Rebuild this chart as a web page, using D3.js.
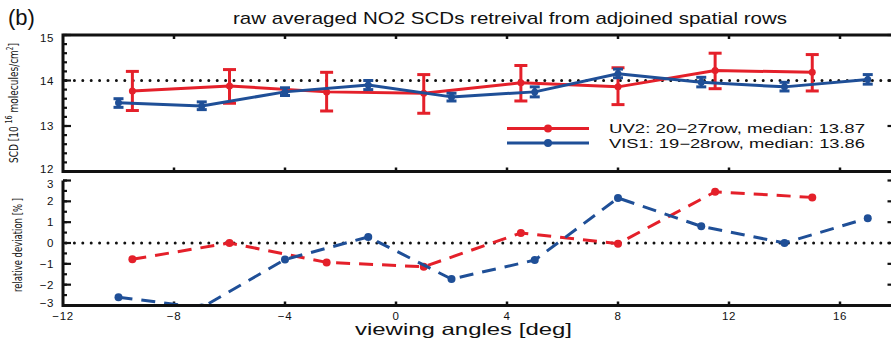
<!DOCTYPE html>
<html>
<head>
<meta charset="utf-8">
<script src="https://cdn.jsdelivr.net/npm/d3@7"></script>
<style>
  html, body { margin: 0; padding: 0; background: #fff; }
  svg { display: block; }
  text { font-family: "Liberation Sans", Arial, Helvetica, sans-serif; fill: #111; }
</style>
</head>
<body>
<svg id="chart" width="891" height="339"></svg>
<script>
// Viewing angles and NO2 slant column densities (10^16 molecules/cm^2)
const uv2Angles = [-9.5, -6, -2.5, 1, 4.5, 8, 11.5, 15];
const uv2Scd    = [13.77, 13.88, 13.75, 13.72, 13.95, 13.86, 14.22, 14.18];
const uv2Lo     = [13.34, 13.50, 13.33, 13.28, 13.55, 13.47, 13.82, 13.77];
const uv2Hi     = [14.20, 14.24, 14.18, 14.13, 14.33, 14.28, 14.60, 14.57];
const uv2Dev    = [-0.78, 0.0, -0.93, -1.14, 0.48, -0.03, 2.46, 2.19];

const vis1Angles = [-10, -7, -4, -1, 2, 5, 8, 11, 14, 17];
const vis1Scd    = [13.51, 13.44, 13.75, 13.90, 13.64, 13.75, 14.15, 13.96, 13.86, 14.02];
const vis1Lo     = [13.41, 13.36, 13.67, 13.80, 13.55, 13.64, 14.06, 13.86, 13.77, 13.92];
const vis1Hi     = [13.60, 13.53, 13.84, 14.00, 13.72, 13.86, 14.25, 14.07, 13.96, 14.13];
const vis1Dev    = [-2.6, -3.1, -0.79, 0.29, -1.73, -0.82, 2.16, 0.80, 0.0, 1.19];

const seriesNames = ["UV2: 20\u221227row, median: 13.87", "VIS1: 19\u221228row, median: 13.86"];
const xTicks   = [-12, -8, -4, 0, 4, 8, 12, 16];
const scdTicks = [12, 13, 14, 15];
const devTicks = [-3, -2, -1, 0, 1, 2, 3];
const scdMinor = d3.range(12, 15.001, 0.2);
const devMinor = d3.range(-3, 3.001, 0.5);
const scdRef = 14;
const devRef = 0;

const RED = "#e4202a";
const BLUE = "#1f4f97";

const svg = d3.select("#chart");

const x = d3.scaleLinear().domain([-12, 18]).range([63, 895.5]);
const yTop = d3.scaleLinear().domain([12, 15]).range([171.5, 35]);
const yBot = d3.scaleLinear().domain([-3, 3]).range([305.5, 180.5]);

const fmt = d => (d < 0 ? "\u2212" + Math.abs(d) : String(d));

// ---------- frames and ticks ----------
function drawTicksY(scale, major, minor, xLeft, xRight) {
  const g = svg.append("g").attr("stroke", "#111").attr("stroke-width", 2.2);
  minor.forEach(v => {
    g.append("line").attr("x1", xLeft).attr("x2", xLeft + 4)
      .attr("y1", scale(v)).attr("y2", scale(v));
    g.append("line").attr("x1", xRight).attr("x2", xRight - 4)
      .attr("y1", scale(v)).attr("y2", scale(v));
  });
  major.forEach(v => {
    g.append("line").attr("x1", xLeft).attr("x2", xLeft + 8)
      .attr("y1", scale(v)).attr("y2", scale(v));
    g.append("line").attr("x1", xRight).attr("x2", xRight - 8)
      .attr("y1", scale(v)).attr("y2", scale(v));
  });
  // end labels sit slightly inside the axis span
  const [lo, hi] = scale.domain();
  const nudge = d => (d === lo ? -3 : d === hi ? 3 : 0);
  svg.append("g").selectAll("text").data(major).join("text")
    .attr("x", xLeft - 9).attr("y", d => scale(d) + 4 + nudge(d))
    .attr("text-anchor", "end").attr("font-size", 11.5)
    .attr("letter-spacing", 0.6)
    .text(fmt);
}

function drawTicksX(yLine, dir) {
  const g = svg.append("g").attr("stroke", "#111").attr("stroke-width", 2.5);
  xTicks.slice(1).forEach(v => {
    g.append("line").attr("x1", x(v)).attr("x2", x(v))
      .attr("y1", yLine).attr("y2", yLine + dir * 4);
  });
}

// upper panel frame
svg.append("rect").attr("x", x(-12)).attr("y", yTop(15))
  .attr("width", x(18) - x(-12)).attr("height", yTop(12) - yTop(15))
  .attr("fill", "none").attr("stroke", "#111").attr("stroke-width", 3);
drawTicksY(yTop, scdTicks, scdMinor, x(-12), x(18));
drawTicksX(yTop(15), 1);
drawTicksX(yTop(12), -1);

// lower panel axes (left, bottom, right)
svg.append("path")
  .attr("d", `M${x(-12)},${yBot(3)}V${yBot(-3)}H${x(18)}V${yBot(3)}`)
  .attr("fill", "none").attr("stroke", "#111").attr("stroke-width", 3);
drawTicksY(yBot, devTicks, devMinor, x(-12), x(18));
drawTicksX(yBot(-3), -1);

// x tick labels under lower panel
svg.append("g").selectAll("text").data(xTicks).join("text")
  .attr("x", d => x(d)).attr("y", yBot(-3) + 14)
  .attr("text-anchor", "middle").attr("font-size", 11.5)
  .attr("letter-spacing", 0.6)
  .text(fmt);

// ---------- reference lines ----------
svg.append("line").attr("x1", x(-12) + 3).attr("x2", 891)
  .attr("y1", yTop(scdRef)).attr("y2", yTop(scdRef))
  .attr("stroke", "#111").attr("stroke-width", 3)
  .attr("stroke-linecap", "round").attr("stroke-dasharray", "0,8.4");
svg.append("line").attr("x1", x(-12) + 3).attr("x2", 891)
  .attr("y1", yBot(devRef)).attr("y2", yBot(devRef))
  .attr("stroke", "#111").attr("stroke-width", 3)
  .attr("stroke-linecap", "round").attr("stroke-dasharray", "0,8.4");

// ---------- upper panel: SCD with error bars ----------
function drawScd(angles, vals, lo, hi, color, capW) {
  const pts = angles.map((a, i) => [a, vals[i], lo[i], hi[i]]);
  const line = d3.line().x(d => x(d[0])).y(d => yTop(d[1]));
  svg.append("path").datum(pts).attr("d", line)
    .attr("fill", "none").attr("stroke", color).attr("stroke-width", 3)
    .attr("stroke-linejoin", "round");
  const g = svg.append("g").attr("stroke", color).attr("stroke-width", 3);
  pts.forEach(d => {
    g.append("line").attr("x1", x(d[0])).attr("x2", x(d[0]))
      .attr("y1", yTop(d[2])).attr("y2", yTop(d[3]));
    g.append("line").attr("x1", x(d[0]) - capW / 2).attr("x2", x(d[0]) + capW / 2)
      .attr("y1", yTop(d[2])).attr("y2", yTop(d[2]));
    g.append("line").attr("x1", x(d[0]) - capW / 2).attr("x2", x(d[0]) + capW / 2)
      .attr("y1", yTop(d[3])).attr("y2", yTop(d[3]));
  });
  svg.append("g").selectAll("circle").data(pts).join("circle")
    .attr("cx", d => x(d[0])).attr("cy", d => yTop(d[1])).attr("r", 3.5)
    .attr("fill", color);
}
drawScd(uv2Angles, uv2Scd, uv2Lo, uv2Hi, RED, 13);
drawScd(vis1Angles, vis1Scd, vis1Lo, vis1Hi, BLUE, 10);

// ---------- lower panel: relative deviation ----------
svg.append("clipPath").attr("id", "botClip").append("rect")
  .attr("x", x(-12)).attr("y", yBot(3) - 6)
  .attr("width", 891 - x(-12)).attr("height", yBot(-3) - yBot(3) + 6);

function drawDev(angles, vals, color) {
  const pts = angles.map((a, i) => [a, vals[i]]);
  const g = svg.append("g").attr("clip-path", "url(#botClip)");
  g.append("path").datum(pts)
    .attr("d", d3.line().x(d => x(d[0])).y(d => yBot(d[1])))
    .attr("fill", "none").attr("stroke", color).attr("stroke-width", 3)
    .attr("stroke-dasharray", "14,9");
  g.selectAll("circle").data(pts).join("circle")
    .attr("cx", d => x(d[0])).attr("cy", d => yBot(d[1])).attr("r", 4)
    .attr("fill", color);
}
drawDev(uv2Angles, uv2Dev, RED);
drawDev(vis1Angles, vis1Dev, BLUE);

// re-draw lower axis line over the clipped data
svg.append("line").attr("x1", x(-12)).attr("x2", 891)
  .attr("y1", yBot(-3)).attr("y2", yBot(-3))
  .attr("stroke", "#111").attr("stroke-width", 3);

// ---------- legend ----------
const legend = svg.append("g");
[RED, BLUE].forEach((c, i) => {
  const yy = 128.5 + i * 14.5;
  legend.append("line").attr("x1", 507).attr("x2", 589)
    .attr("y1", yy).attr("y2", yy).attr("stroke", c).attr("stroke-width", 3);
  legend.append("circle").attr("cx", 548).attr("cy", yy).attr("r", 4).attr("fill", c);
  legend.append("text").attr("x", 609).attr("y", yy + 4.5)
    .attr("font-size", 12).attr("textLength", 256).attr("lengthAdjust", "spacingAndGlyphs")
    .text(seriesNames[i]);
});

// ---------- titles and axis labels ----------
svg.append("text").attr("x", 8).attr("y", 25).attr("font-size", 22).text("(b)");
svg.append("text").attr("x", 233).attr("y", 24).attr("font-size", 17)
  .attr("textLength", 554).attr("lengthAdjust", "spacingAndGlyphs")
  .text("raw averaged NO2 SCDs retreival from adjoined spatial rows");
svg.append("text").attr("x", 355).attr("y", 335).attr("font-size", 16.5)
  .attr("textLength", 217).attr("lengthAdjust", "spacingAndGlyphs")
  .text("viewing angles [deg]");

const yl1 = svg.append("text")
  .attr("transform", `translate(18,${163}) rotate(-90)`)
  .attr("font-size", 12.5).attr("textLength", 120).attr("lengthAdjust", "spacingAndGlyphs")
  .style("font-family", "'Liberation Sans Narrow', 'DejaVu Sans Condensed', sans-serif");
yl1.append("tspan").text("SCD [10 ");
yl1.append("tspan").attr("dy", -6).attr("font-size", 9).text("16");
yl1.append("tspan").attr("dy", 6).text(" molecules/cm");
yl1.append("tspan").attr("dy", -5).attr("font-size", 8).text("2");
yl1.append("tspan").attr("dy", 5).text("]");

svg.append("text")
  .attr("transform", `translate(22,${292}) rotate(-90)`)
  .attr("font-size", 12.5).attr("textLength", 94).attr("lengthAdjust", "spacingAndGlyphs")
  .style("font-family", "'Liberation Sans Narrow', 'DejaVu Sans Condensed', sans-serif")
  .text("relative deviation [% ]");
</script>
</body>
</html>
